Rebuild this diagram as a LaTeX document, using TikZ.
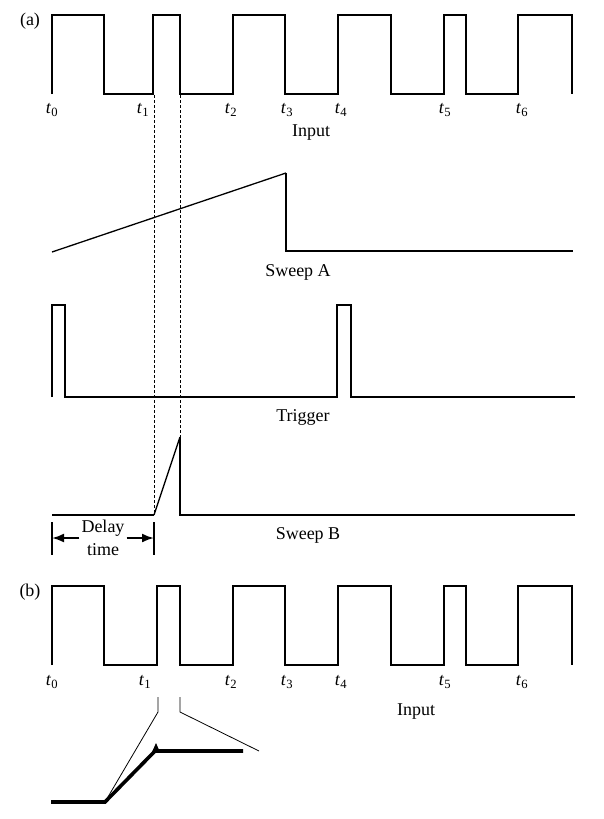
\documentclass[tikz,border=0pt]{standalone}
\usepackage{fontspec}
\setmainfont{Liberation Serif}
\usepackage{tikz}
\usetikzlibrary{arrows.meta,positioning}

\newcommand{\tsub}[1]{\textit{t}\textsubscript{#1}}

\begin{document}
\begin{tikzpicture}[
  x=1pt, y=-1pt,
  wave/.style={line width=2pt, line join=miter},
  ramp/.style={line width=1.3pt},
  guide/.style={line width=0.6pt, dash pattern=on 3pt off 2pt},
  zoomline/.style={line width=0.8pt},
  bold/.style={line width=3.6pt, line join=miter},
  lbl/.style={font=\fontsize{18}{23}\selectfont, inner sep=0pt},
  arrow/.style={-{Latex[length=12pt, width=9pt]}, line width=2pt}
]
\useasboundingbox (0,0) rectangle (604,819);

% (a) input
\node[lbl] (labA) at (30,21) {(a)};
\draw[wave] (52,94) -- (52,15) -- (104,15) -- (104,94) -- (153,94) -- (153,15)
  -- (180,15) -- (180,94) -- (233,94) -- (233,15) -- (285,15) -- (285,94)
  -- (338,94) -- (338,15) -- (391,15) -- (391,94) -- (444,94) -- (444,15)
  -- (466,15) -- (466,94) -- (518,94) -- (518,15) -- (572,15) -- (572,94);
\node[lbl] (tA0) at (52,110) {\tsub{0}};
\node[lbl] (tA1) at (143,110) {\tsub{1}};
\node[lbl] (tA2) at (231,110) {\tsub{2}};
\node[lbl] (tA3) at (287,110) {\tsub{3}};
\node[lbl] (tA4) at (341,110) {\tsub{4}};
\node[lbl] (tA5) at (445,110) {\tsub{5}};
\node[lbl] (tA6) at (522,110) {\tsub{6}};
\node[lbl] (inputA) at (311,133) {Input};

% sweep A
\draw[ramp] (52,252) -- (286,173);
\draw[wave] (286,173) -- (286,251) -- (573,251);
\node[lbl] (sweepA) at (298,272) {Sweep A};

% trigger
\draw[wave] (52,397) -- (52,305) -- (65,305) -- (65,397) -- (337,397) -- (337,305)
  -- (351,305) -- (351,397) -- (575,397);
\node[lbl] (trigger) at (303,417) {Trigger};

% sweep B
\draw[wave] (52,515) -- (154,515);
\draw[ramp] (154,515) -- (180,437);
\draw[wave] (180,437) -- (180,515) -- (575,515);
\node[lbl] (sweepB) at (308,535) {Sweep B};

% dashed guides
\coordinate (d1top) at (154,95);
\coordinate (d1bot) at (154,514);
\coordinate (d2top) at (180,95);
\coordinate (d2bot) at (180,437);
\draw[guide] (d1top) -- (d1bot);
\draw[guide] (d2top) -- (d2bot);

% delay time
\draw[line width=2pt] (52,522) -- (52,555);
\draw[line width=2pt] (154,522) -- (154,555);
\coordinate (barL) at (52,538);
\coordinate (barR) at (154,538);
\node[lbl, align=center, inner sep=2pt] (delay) at (103,538) {Delay\\time};
\draw[arrow] (delay.west) -- (barL);
\draw[arrow] (delay.east) -- (barR);

% (b) input
\node[lbl] (labB) at (30,592) {(b)};
\draw[wave] (52,665) -- (52,586) -- (104,586) -- (104,665) -- (157,665) -- (157,586)
  -- (180,586) -- (180,665) -- (233,665) -- (233,586) -- (285,586) -- (285,665)
  -- (338,665) -- (338,586) -- (391,586) -- (391,665) -- (444,665) -- (444,586)
  -- (466,586) -- (466,665) -- (518,665) -- (518,586) -- (572,586) -- (572,665);
\node[lbl] (tB0) at (52,682) {\tsub{0}};
\node[lbl] (tB1) at (145,682) {\tsub{1}};
\node[lbl] (tB2) at (231,682) {\tsub{2}};
\node[lbl] (tB3) at (287,682) {\tsub{3}};
\node[lbl] (tB4) at (341,682) {\tsub{4}};
\node[lbl] (tB5) at (445,682) {\tsub{5}};
\node[lbl] (tB6) at (522,682) {\tsub{6}};
\node[lbl] (inputB) at (416,712) {Input};

% (b) magnified edge
\draw[zoomline] (158,697) -- (158,712) -- (105,802);
\draw[zoomline] (180,697) -- (180,712) -- (259,751);
\draw[bold] (51,802) -- (105,802) -- (155,751) -- (243,751);
\fill (152,752) -- (156,743) -- (160,752) -- cycle;
\end{tikzpicture}
\end{document}
